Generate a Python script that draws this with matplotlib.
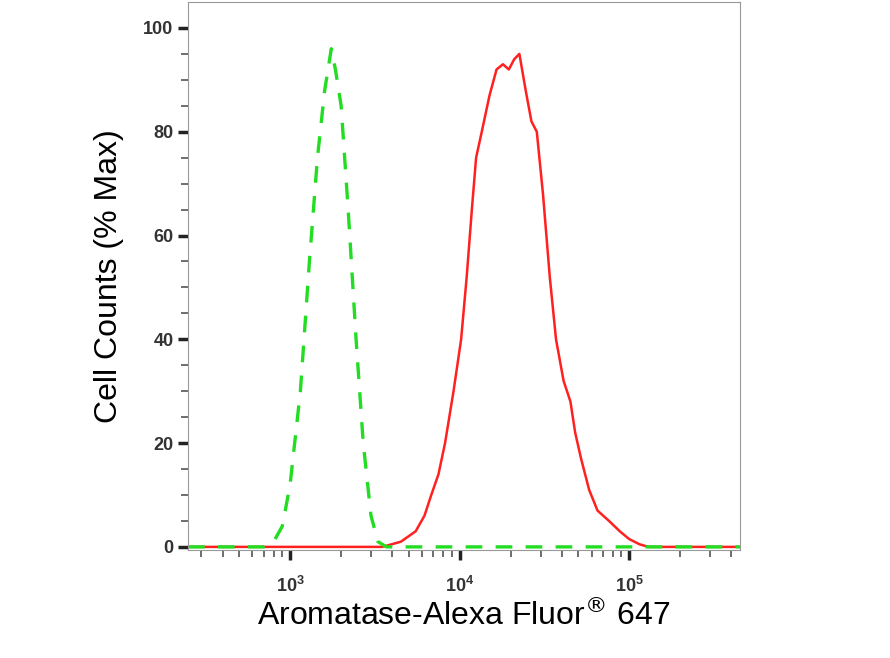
import numpy as np
import matplotlib.pyplot as plt
from matplotlib.ticker import LogLocator, NullFormatter, FixedLocator

plt.rcParams['font.family'] = ['Liberation Sans', 'DejaVu Sans']

# isotype control (green dashed)
ctrl_x = [250, 500, 700, 800, 900, 1000, 1150, 1300, 1450, 1600, 1750, 1850, 2000, 2200, 2450, 2700, 3000, 3300, 3700, 5000, 20000, 100000, 450000]
ctrl_y = [0, 0, 0, 1, 4, 12, 30, 55, 75, 88, 96, 92, 85, 65, 40, 20, 6, 1, 0, 0, 0, 0, 0]

# Aromatase stained (red solid)
samp_x = [250, 2000, 3500, 4500, 5500, 6200, 6800, 7500, 8200, 9200, 10200, 11000, 11800, 12500, 13500, 15000, 16500, 18000, 19500, 21000, 22500, 24500, 26500, 28500, 31000, 34000, 37000, 41000, 45000, 48000, 52000, 58000, 65000, 76000, 88000, 100000, 115000, 130000, 450000]
samp_y = [0, 0, 0, 1, 3, 6, 10, 14, 20, 30, 40, 52, 65, 75, 80, 87, 92, 93, 92, 94, 95, 88, 82, 80, 68, 52, 40, 32, 28, 22, 17, 11, 7, 5, 3, 1.5, 0.5, 0, 0]

fig = plt.figure(figsize=(8.9, 6.58), dpi=100)
ax = fig.add_axes([188/890, 1 - 550/658, 552/890, 548/658])
ax.plot(samp_x, samp_y, color='#ff2020', lw=1.8)
ax.plot(ctrl_x, ctrl_y, color='#22dd22', lw=2.4, ls=(0, (5, 4)))

ax.set_xscale('log')
ax.set_xlim(250, 450000)
ax.set_ylim(-0.6, 105)
ax.xaxis.set_major_locator(FixedLocator([1e3, 1e4, 1e5]))
ax.set_xticklabels(['$\\mathregular{10^3}$', '$\\mathregular{10^4}$', '$\\mathregular{10^5}$'])
ax.xaxis.set_minor_locator(LogLocator(base=10, subs=np.arange(2, 10)))
ax.xaxis.set_minor_formatter(NullFormatter())
ax.set_yticks([0, 20, 40, 60, 80, 100])
ax.set_yticks(np.arange(0, 101, 5), minor=True)
ax.tick_params(which='major', length=7, width=2.5, color='#222222', labelsize=13, labelcolor='#333333')
ax.tick_params(which='minor', length=5, width=1.2, color='#555555')
ax.tick_params(axis='x', pad=12)
for lbl in ax.get_xticklabels() + ax.get_yticklabels():
    lbl.set_fontweight('bold')
for s in ax.spines.values():
    s.set_color('#999999')
ax.set_xlabel('Aromatase-Alexa Fluor$^{®}$ 647', fontsize=23, labelpad=2)
ax.set_ylabel('Cell Counts (% Max)', fontsize=23, labelpad=14)
fig.savefig('out.png', dpi=100)
